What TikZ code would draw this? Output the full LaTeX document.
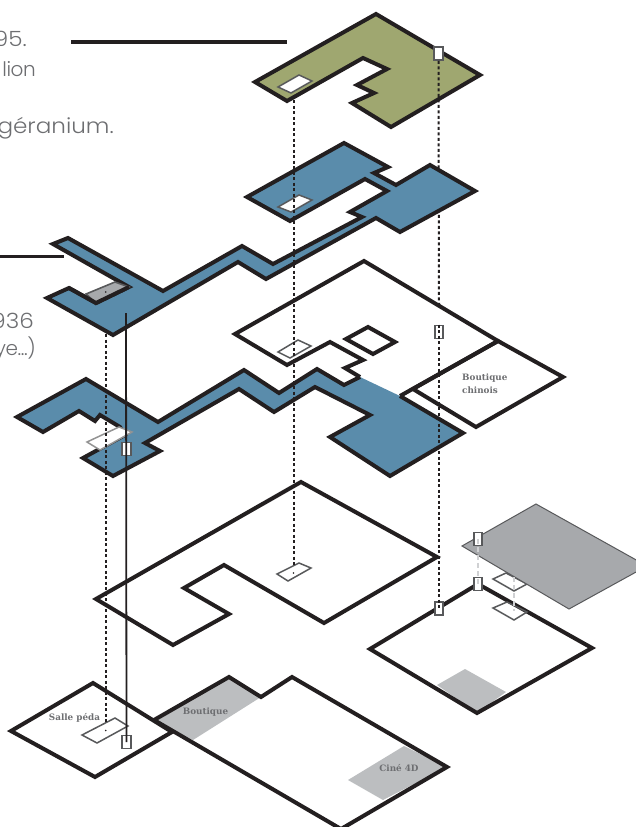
\documentclass[tikz,border=0pt]{standalone}
\usepackage{fontspec}
\newfontfamily\notefont[FakeStretch=1.1]{Poppins Light}
\newfontfamily\notetight[LetterSpace=-2]{Poppins Light}
\newfontfamily\roomfont{DejaVu Serif}
\usepackage{tikz}

\definecolor{inkblack}{HTML}{231F20}
\definecolor{floorblue}{HTML}{5A8CAB}
\definecolor{floorgreen}{HTML}{9FA770}
\definecolor{floorgrey}{HTML}{A7A9AC}
\definecolor{patchgrey}{HTML}{BCBEC0}
\definecolor{stairgrey}{HTML}{58595B}
\definecolor{textgrey}{HTML}{6D6E71}

\tikzset{
  floor/.style={draw=inkblack,line width=4pt,miter limit=6},
  stair/.style={draw=stairgrey,line width=1.5pt},
  liftbox/.style={draw=stairgrey,fill=white,line width=1.8pt,inner sep=0pt,minimum width=8.5pt,minimum height=13pt},
  leader/.style={draw=inkblack,line width=2pt,dash pattern=on 3pt off 2.5pt},
  paleleader/.style={draw=patchgrey!70,line width=1.8pt,dash pattern=on 5pt off 3pt},
  rule/.style={draw=inkblack,line width=3.2pt},
  note/.style={anchor=base east,inner sep=0pt,text=textgrey,font=\notefont\fontsize{21}{25}\selectfont},
  notenarrow/.style={anchor=base east,inner sep=0pt,text=textgrey,font=\notetight\fontsize{20}{25}\selectfont},
  room/.style={inner sep=0pt,text=textgrey,align=left,font=\roomfont\bfseries\fontsize{8.8}{13}\selectfont}
}

\begin{document}
\begin{tikzpicture}[x=1pt,y=-1pt]
      \useasboundingbox (0,0) rectangle (635,827);

      %% texts cut by the page
      \node[note] (note1) at (27,46) {95.};
      \node[notenarrow] (note2) at (36,76) {lion};
      \node[note] (note3) at (114,133) {géranium.};
      \node[note] (note4) at (34,328) {936};
      \node[notenarrow] (note5) at (36,355) {ye...)};
      \coordinate (rule1a) at (71,42);
      \coordinate (rule1b) at (287,42);
      \coordinate (rule2a) at (0,256.5);
      \coordinate (rule2b) at (64,256.5);
      \draw[rule] (rule1a) -- (rule1b);
      \draw[rule] (rule2a) -- (rule2b);

      %% shaft ends
      \coordinate (d2) at (439,305);
      \coordinate (e1) at (293.5,100);
      \coordinate (e2) at (293.5,565);
      \coordinate (f1) at (105.5,334);
      \coordinate (f2) at (105.5,724);
      \coordinate (g1) at (514,577);
      \coordinate (g2) at (514,611);
      \coordinate (h1) at (126,313);

      %% green floor
      \draw[floor,fill=floorgreen] (376,14) -- (480,75) -- (391,127) -- (352,103) -- (374,93) -- (357,85) -- (387,69) -- (363,58) -- (287,101) -- (255,82) -- cycle;
      \draw[stair,fill=white] (278,87) -- (299,75) -- (312,81) -- (291,93) -- cycle;
      \node[liftbox] (lift1) at (438.5,53.5) {};
      \draw[leader] (lift1.south) -- (d2);

      %% blue floor and its long arm
      \draw[floor,fill=floorblue] (344,143) -- (388,167) -- (374,173) -- (396,185) -- (430,165) -- (475,191) -- (400,232) -- (376,218) -- (266,279) -- (238,262) -- (113,335) -- (47,298) -- (69,288) -- (96,303) -- (129,287) -- (53,244) -- (68,238) -- (163,291) -- (242,246) -- (273,264) -- (362,217) -- (350,212) -- (387,191) -- (365,179) -- (290,221) -- (247,197) -- cycle;
      \draw[stair,fill=white] (278,207) -- (299,195) -- (312,200) -- (291,212) -- cycle;
      \draw[draw=stairgrey,line width=1.6pt,fill=floorgrey] (86,294) -- (115,282) -- (129,287) -- (96,303) -- cycle;
      \draw[floor] (69,288) -- (96,303) -- (129,287);

      %% floor with the boutique
      \draw[floor] (400,396) -- (498,341) -- (364,261) -- (235,334) -- (287,365) -- (330,342) -- (363,360) -- (345,368) -- (360,377);
      \draw[floor] (498,341) -- (563,377) -- (476,427) -- (413,389) -- cycle;
      \draw[floor] (346,339) -- (368,327) -- (395,342) -- (373,354) -- cycle;
      \draw[stair] (278,352) -- (298,340) -- (311,346) -- (290,358) -- cycle;
      \node[liftbox] (lift2) at (439,332) {};
      \node[room,anchor=north west] (room1) at (462,374) {Boutique\\chinois};

      %% blue floor below
      \fill[floorblue] (360,377) -- (344,385) -- (317,369) -- (279,393) -- (244,370) -- (158,422) -- (86,379) -- (17,417) -- (43,432) -- (79,411) -- (95,421) -- (100,415) -- (120,427) -- (125,435) -- (83,458) -- (113,476) -- (160,451) -- (145,443) -- (239,389) -- (274,412) -- (315,387) -- (370,415) -- (330,437) -- (390,476) -- (463,433) -- (400,396) -- cycle;
      \draw[floor] (360,377) -- (344,385) -- (317,369) -- (279,393) -- (244,370) -- (158,422) -- (86,379) -- (17,417) -- (43,432) -- (79,411) -- (95,421) -- (100,415) -- (120,427) -- (125,435) -- (83,458) -- (113,476) -- (160,451) -- (145,443) -- (239,389) -- (274,412) -- (315,387) -- (370,415) -- (330,437) -- (390,476) -- (463,433) -- (400,396);
      \draw[draw=gray!85,line width=1.5pt,fill=white] (87,442) -- (119,427) -- (132,432) -- (100,450) -- cycle;
      \node[liftbox] (lift3) at (126.5,449) {};

      %% white floor in the middle
      \draw[floor] (301,482) -- (437,557) -- (324,623) -- (224,565) -- (184,588) -- (229,614) -- (173,645) -- (96,599) -- cycle;
      \draw[stair] (277,574) -- (299,563) -- (311,568) -- (288,581) -- cycle;

      %% grey floor and the one below it
      \draw[stair] (493,579) -- (506,573) -- (527,584) -- (514,591) -- cycle;
      \draw[draw=stairgrey,line width=1pt,fill=floorgrey] (536,504) -- (647,566) -- (569,609) -- (462,546) -- cycle;
      \fill[patchgrey] (437,685) -- (465,669) -- (506,692) -- (477,713) -- cycle;
      \draw[floor] (478,584) -- (592,648) -- (477,713) -- (370,649) -- cycle;
      \draw[stair] (493,608) -- (507,602) -- (527,612) -- (514,620) -- cycle;
      \node[liftbox] (lift4) at (478,539) {};
      \node[liftbox] (lift5) at (478,584) {};
      \node[liftbox] (lift6) at (439,608.5) {};
      \draw[paleleader] (lift4.center) -- (lift5.center);
      \draw[paleleader] (g1) -- (g2);

      %% ground floor
      \fill[patchgrey] (154,720) -- (229,677) -- (261,697) -- (193,740) -- cycle;
      \fill[patchgrey] (404,746) -- (447,767) -- (383,800) -- (348,780) -- cycle;
      \draw[floor] (154,720) -- (229,677) -- (261,697) -- (292,677) -- (447,767) -- (341,829) -- cycle;
      \draw[floor] (93,683) -- (172,732) -- (95,777) -- (11,731) -- cycle;
      \draw[stair] (82,735) -- (115,718) -- (128,726) -- (97,743) -- cycle;
      \node[liftbox] (lift7) at (126.5,742) {};
      \node[room] (room2) at (74.5,718) {Salle péda};
      \node[room] (room3) at (205.5,712) {Boutique};
      \node[room] (room4) at (399,768) {Ciné 4D};

      %% shafts
      \draw[leader] (lift2.north) -- (lift6.center);
      \draw[leader] (e1) -- (e2);
      \draw[leader] (f1) -- (f2);
      \draw[draw=inkblack,line width=1.8pt] (h1) -- (lift7.center);
      \foreach \px/\py in {105.7/292,105.7/730.5,293.5/573} \fill[inkblack] (\px,\py) circle (0.9pt);
    \end{tikzpicture}
\end{document}
